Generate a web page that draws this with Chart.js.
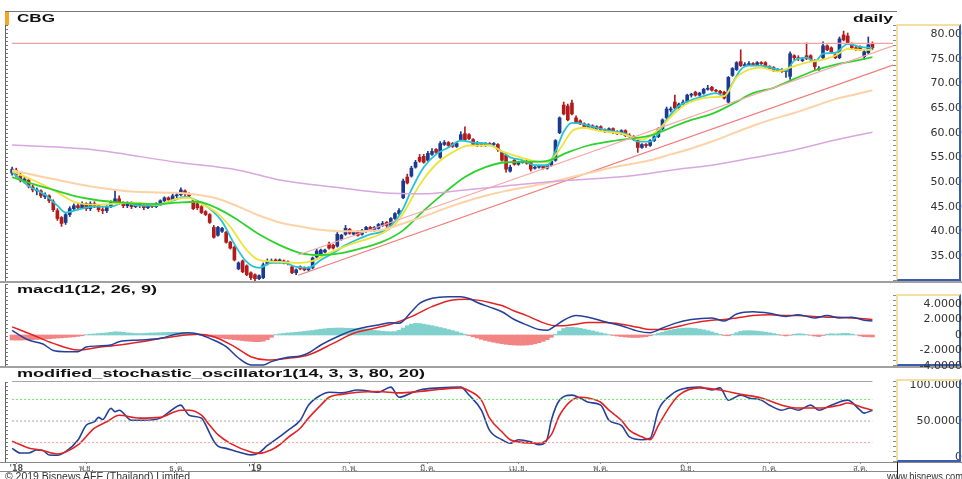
<!DOCTYPE html>
<html><head><meta charset="utf-8">
<script src="https://cdn.jsdelivr.net/npm/chart.js@4"></script>
<style>
html,body{margin:0;padding:0;background:#fff;}
body{width:962px;height:479px;overflow:hidden;position:relative;font-family:'Liberation Sans',Arial,sans-serif;}
canvas{position:absolute;left:0;}
.a{position:absolute;}
.t{position:absolute;white-space:nowrap;font-weight:bold;font-size:11px;line-height:11px;color:#111;transform-origin:0 0;}
.f{position:absolute;white-space:nowrap;font-size:10px;line-height:10px;color:#333;transform-origin:0 0;}
.box{position:absolute;box-sizing:border-box;left:896px;width:65px;border-left:2px solid #f3dfa0;border-top:2px solid #f3dfa0;border-right:2px solid #3c5cb0;border-bottom:2px solid #3c5cb0;}
.rs{position:absolute;left:893px;width:3px;background:repeating-linear-gradient(to bottom,#8a8a8a 0 1px,transparent 1px 5px);}
.ls{position:absolute;left:5px;width:3px;border-left:1px solid #666;box-sizing:border-box;background:repeating-linear-gradient(to bottom,#777 0 1px,transparent 1px 4px);}
</style></head><body>
<canvas id="c1" width="962" height="283" style="top:0px"></canvas>
<canvas id="c3" width="962" height="111" style="top:368px"></canvas>

<div class="a" style="left:5px;top:11px;width:892px;height:1px;background:#777"></div>
<div class="a" style="left:0;top:281px;width:962px;height:2px;background:#a0a0a0"></div>
<div class="a" style="left:0;top:366px;width:962px;height:2px;background:#a0a0a0"></div>
<div class="a" style="left:0;top:462px;width:962px;height:1px;background:#888"></div>
<div class="a" style="left:0;top:471px;width:898px;height:1px;background:#888"></div>
<div class="a" style="left:897px;top:462px;width:1px;height:17px;background:#222"></div>
<div class="box" style="top:24px;height:257px"></div>
<div class="box" style="top:294px;height:72px"></div>
<div class="box" style="top:379px;height:83px"></div>
<div class="rs" style="top:25px;height:256px"></div>
<div class="rs" style="top:295px;height:71px"></div>
<div class="rs" style="top:381px;height:81px"></div>
<div class="ls" style="top:25px;height:256px"></div>
<div class="ls" style="top:284px;height:82px"></div>
<div class="ls" style="top:382px;height:80px"></div>
<div class="a" style="left:5px;top:12px;width:4px;height:13px;background:#f5a623"></div>
<canvas id="c2" width="962" height="90" style="top:283px"></canvas>

<div class="t" style="left:17px;top:13px" data-w="38">CBG</div>
<div class="t" style="left:853px;top:13px" data-w="40">daily</div>
<div class="t" style="left:17px;top:284px" data-w="140">macd1(12, 26, 9)</div>
<div class="t" style="left:17px;top:368px" data-w="408">modified_stochastic_oscillator1(14, 3, 3, 80, 20)</div>
<div class="f" style="left:5px;top:472px" data-w="185">© 2019 Bisnews AFE (Thailand) Limited</div>
<div class="f" style="left:887px;top:472px" data-w="76">www.bisnews.com</div>

<script>
// ---- price candles (daily) ----
const open = [
51.8,52.4,51.2,50.2,50.4,49.0,48.2,48.2,47.0,47.2,
46.0,44.2,42.8,41.8,43.4,44.6,45.2,44.8,45.6,44.6,
45.6,45.2,44.4,44.2,45.0,45.8,46.6,45.6,45.2,45.8,
45.0,45.6,45.2,44.8,45.4,45.0,45.6,46.2,46.8,46.4,
47.2,47.4,48.2,47.6,46.2,45.6,45.0,44.0,43.4,40.8,
39.2,40.0,39.8,37.8,36.8,32.4,34.0,33.0,31.6,31.2,
30.4,30.6,33.4,33.8,34.2,33.8,34.0,33.8,32.8,31.6,
32.8,32.6,32.2,32.6,34.8,35.4,35.8,37.4,37.2,37.0,
38.4,39.4,40.4,39.4,40.0,39.4,40.0,40.8,40.2,40.6,
41.2,41.8,41.2,42.6,43.6,46.8,51.0,51.2,53.0,55.0,
55.2,54.4,55.6,56.6,55.0,57.6,58.0,57.8,57.2,58.6,
59.8,59.6,58.6,57.4,57.8,57.4,57.8,57.6,57.6,56.0,
55.4,52.2,54.4,53.6,54.0,54.2,54.2,52.8,53.0,53.2,
52.8,53.4,54.4,60.0,65.6,65.4,66.0,63.0,62.4,61.8,
61.0,61.4,60.8,61.2,60.6,60.2,60.8,60.0,59.8,60.4,
59.4,59.2,58.4,57.0,57.6,57.4,58.4,59.2,60.8,63.0,
64.6,66.2,65.0,65.8,66.2,67.6,68.2,67.6,68.0,68.8,
69.2,68.6,68.4,68.2,66.2,71.6,72.8,74.4,73.6,73.8,
74.0,73.8,74.2,74.2,73.4,73.2,72.6,72.8,72.4,71.4,
75.6,75.2,74.6,75.6,75.6,74.6,72.8,75.2,77.6,77.2,
75.8,75.2,79.8,79.6,78.0,77.2,77.4,75.4,76.2,78.0];
const high = [
53.0,52.8,51.8,51.0,50.6,49.4,48.8,48.4,47.8,47.4,
46.4,44.6,43.0,43.8,45.0,45.6,45.8,46.0,45.8,46.0,
46.0,45.4,44.8,45.2,46.2,48.4,47.2,46.0,46.0,46.0,
45.8,45.8,45.4,45.6,45.6,45.8,46.4,47.0,47.0,47.6,
47.8,48.8,48.4,47.8,46.4,45.8,45.2,44.2,43.6,41.2,
41.0,40.8,40.0,38.0,37.0,33.8,34.2,33.2,31.8,31.4,
31.2,33.6,34.4,34.4,34.4,34.4,34.2,34.0,33.0,32.4,
33.0,32.8,32.8,34.8,36.4,36.4,36.4,37.8,37.4,39.8,
39.4,41.2,40.6,40.0,40.2,40.4,41.0,41.0,41.0,41.6,
42.0,42.0,42.8,43.8,44.6,50.6,51.6,53.2,54.4,55.6,
55.6,56.2,56.8,56.8,58.2,58.4,58.2,58.0,58.2,60.2,
61.2,59.8,58.8,58.2,58.0,58.0,58.0,58.0,57.8,56.2,
55.6,53.4,54.8,54.2,54.4,54.4,54.4,53.4,53.4,53.4,
53.6,54.6,58.6,63.2,66.2,65.8,66.6,63.4,62.6,62.0,
61.8,61.6,61.4,61.4,60.8,61.0,61.0,60.4,60.6,60.6,
59.8,59.4,58.6,57.8,57.8,58.6,59.4,61.0,62.8,65.2,
65.2,67.6,66.0,66.6,67.8,68.0,68.4,68.2,69.0,69.6,
69.4,68.8,68.6,68.4,71.4,73.2,74.4,76.8,74.2,74.4,
74.2,74.4,74.4,74.4,73.6,73.4,73.0,73.0,72.8,76.4,
75.8,75.6,75.2,78.2,75.8,74.8,73.4,78.4,77.8,77.4,
76.0,79.4,80.6,80.2,78.2,77.6,77.6,76.8,79.4,78.4];
const low = [
51.4,51.0,50.0,49.8,48.8,48.0,47.4,46.8,46.6,45.8,
44.0,42.2,41.0,41.4,43.0,44.2,44.4,44.6,44.2,44.2,
44.8,44.0,43.6,43.8,44.8,45.6,45.4,44.8,44.8,44.6,
44.8,44.8,44.4,44.6,44.8,44.8,45.2,46.0,46.0,46.2,
46.8,47.2,47.2,46.8,44.4,44.4,43.6,43.2,41.6,38.6,
39.0,39.8,37.6,36.4,34.0,32.2,31.6,31.0,30.2,29.8,
30.2,30.4,33.2,33.6,33.6,33.6,33.4,33.2,31.4,31.2,
32.2,32.0,32.0,32.4,34.6,35.2,35.6,36.4,36.4,36.8,
38.2,39.2,39.4,39.2,39.0,39.2,39.8,40.0,40.0,40.4,
41.0,40.8,41.0,42.4,43.4,46.6,49.6,51.0,52.8,54.0,
53.8,54.2,55.4,55.8,54.8,57.4,57.2,57.0,57.0,58.4,
58.4,58.6,57.4,57.2,57.2,57.2,57.4,57.2,56.2,54.2,
52.0,52.0,53.4,53.4,53.8,53.6,52.2,52.6,52.8,52.6,
52.6,53.2,54.2,59.8,63.6,62.4,63.6,61.8,61.6,61.0,
60.8,60.6,60.6,60.4,60.0,60.0,59.8,59.6,59.6,59.2,
58.8,58.4,56.0,56.8,57.0,57.2,58.2,59.0,60.6,62.8,
64.2,64.8,64.8,65.6,66.0,67.2,67.4,67.4,67.8,68.6,
68.4,68.2,67.8,66.8,66.0,71.4,72.6,73.4,73.4,73.6,
73.6,73.6,73.8,73.2,72.8,72.4,72.4,72.2,71.2,70.8,
74.8,74.6,74.4,74.8,74.6,72.8,72.6,75.0,76.6,76.2,
75.0,75.0,78.6,78.0,77.0,76.6,76.6,74.8,76.0,76.8];
const close = [
52.6,51.4,50.4,50.6,49.2,48.4,48.4,47.2,47.4,46.2,
44.4,42.6,41.6,43.4,44.6,45.2,44.8,45.6,44.6,45.6,
45.2,44.4,44.2,45.0,45.8,46.6,45.6,45.2,45.8,45.0,
45.6,45.2,44.8,45.4,45.0,45.6,46.2,46.8,46.4,47.2,
47.4,48.4,47.6,47.2,44.6,44.8,43.8,43.4,41.8,38.8,
40.8,40.6,37.8,36.6,34.2,33.6,31.8,31.2,30.6,30.4,
31.0,33.2,33.8,34.0,33.8,34.2,33.6,33.6,31.6,32.2,
32.4,32.2,32.6,34.6,36.0,36.2,36.2,36.6,36.6,39.4,
39.2,40.6,39.6,39.8,39.2,40.2,40.8,40.2,40.8,41.4,
41.6,41.2,42.6,43.6,44.2,50.2,49.8,52.8,54.0,54.2,
54.0,55.8,56.2,56.0,57.8,58.0,57.4,57.2,57.8,59.6,
58.6,58.8,57.6,57.8,57.4,57.8,57.6,57.8,56.6,54.4,
52.6,53.0,53.6,54.0,54.2,53.8,52.6,53.0,53.2,52.8,
53.4,54.2,58.4,63.0,63.8,62.6,63.8,62.0,61.8,61.2,
61.6,60.8,61.2,60.6,60.2,60.8,60.0,59.8,60.4,59.4,
59.2,58.6,57.0,57.6,57.4,58.4,59.2,60.8,62.6,64.8,
64.8,65.0,65.8,66.2,67.6,67.8,67.6,68.0,68.8,69.0,
68.6,68.4,68.0,67.0,71.2,73.0,74.2,73.6,73.8,74.0,
73.8,74.2,74.0,73.4,73.0,72.6,72.8,72.4,72.6,76.0,
75.2,75.0,74.8,75.0,74.8,73.4,73.0,77.6,76.8,76.4,
75.2,79.0,78.8,78.2,77.2,77.0,76.8,76.4,77.8,77.2];

// ---- moving averages [dayIndex, value] ----
const cyanMA = [[0,52.0],[4,49.2],[8,47.4],[11,45.2],[13,43.8],[16,44.4],[20,45.0],[24,45.0],[27,45.8],[31,45.2],[35,45.2],[39,46.2],[42,47.0],[45,46.2],[48,44.6],[51,42.0],[54,37.4],[57,33.8],[60,32.6],[63,33.6],[66,33.6],[69,32.8],[72,32.6],[75,34.2],[78,35.6],[81,37.2],[84,38.4],[87,39.4],[90,40.0],[93,42.0],[95,44.6],[97,48.4],[100,53.0],[103,55.6],[106,57.0],[109,58.4],[112,58.0],[116,57.6],[119,56.2],[121,55.0],[124,54.4],[127,53.4],[130,53.4],[132,56.2],[134,60.2],[136,62.0],[138,61.9],[141,61.2],[145,60.4],[149,59.8],[152,58.2],[155,58.2],[157,59.8],[159,62.6],[162,65.4],[165,66.6],[168,67.4],[171,68.0],[173,67.4],[175,70.0],[177,72.8],[179,73.6],[182,73.6],[185,73.0],[188,72.6],[190,74.6],[193,75.2],[195,74.4],[197,76.0],[200,76.2],[203,78.0],[206,77.4],[209,77.2]];
const yellowMA = [[0,52.2],[5,50.4],[10,48.4],[15,46.0],[20,45.4],[25,45.6],[30,45.8],[35,45.4],[40,46.6],[43,46.8],[45,46.0],[50,43.6],[53,40.9],[57,36.2],[60,34.2],[65,33.8],[70,33.6],[73,34.0],[77,35.6],[83,37.6],[90,39.6],[93,41.4],[95,43.6],[99,49.4],[103,53.6],[107,56.0],[111,57.4],[116,57.4],[119,56.2],[122,55.4],[126,54.4],[130,54.0],[133,56.6],[136,60.3],[139,61.0],[143,60.3],[148,59.8],[153,58.6],[157,60.6],[160,63.2],[163,65.4],[166,66.6],[170,67.2],[173,67.4],[176,71.2],[179,72.8],[182,73.2],[186,72.4],[189,73.2],[193,74.2],[197,74.8],[200,75.6],[203,77.0],[206,76.8],[209,76.8]];
const greenMA = [[0,51.0],[5,49.6],[10,48.4],[15,47.2],[20,46.4],[25,45.9],[30,45.6],[35,45.5],[40,45.8],[45,46.0],[50,44.6],[55,42.2],[60,39.4],[65,37.2],[70,35.6],[75,35.2],[80,35.6],[85,36.6],[90,37.9],[95,40.2],[100,44.2],[105,47.8],[110,51.0],[115,53.0],[120,54.0],[125,54.1],[130,54.3],[135,56.0],[140,57.4],[145,58.2],[150,58.8],[155,59.4],[160,61.0],[165,62.6],[170,63.8],[175,65.8],[180,68.0],[185,69.1],[190,70.9],[195,72.6],[200,73.8],[205,74.6],[209,75.3]];
const orangeMA = [[0,52.4],[10,50.6],[20,49.0],[30,48.0],[40,47.8],[45,47.4],[50,46.6],[55,45.0],[60,43.2],[65,41.8],[70,41.0],[75,40.3],[80,40.0],[85,40.0],[90,40.3],[95,41.6],[100,43.0],[105,44.6],[110,46.0],[115,47.2],[120,48.2],[125,49.0],[130,49.8],[135,50.8],[140,51.8],[145,52.8],[150,53.6],[155,54.4],[160,55.6],[165,56.8],[170,58.2],[175,59.8],[180,61.4],[185,62.8],[190,64.0],[195,65.4],[200,66.8],[205,67.8],[209,68.6]];
const purpleMA = [[0,57.5],[20,56.5],[40,54.0],[55,52.4],[65,50.4],[80,48.8],[90,47.8],[100,47.6],[110,48.4],[120,49.2],[130,50.0],[140,50.6],[150,51.2],[160,52.4],[170,53.4],[180,54.9],[190,56.5],[200,58.5],[209,60.1]];
const resistance = [[0,78.1],[214,78.1]];
const upperTrend = [[69.5,35.2],[214,77.6]];
const lowerTrend = [[69.5,31.1],[214,73.7]];

// ---- MACD(12,26,9) ----
const macdLine = [[0,0.6],[4,-0.65],[7.5,-1.16],[10,-2.0],[13,-2.15],[16,-2.15],[18,-1.55],[21,-1.42],[24,-1.29],[26,-0.86],[31,-0.65],[36,-0.43],[40,0.13],[43,0.3],[46,0],[48,-0.43],[52,-1.5],[55,-2.97],[58,-3.87],[61,-3.87],[63,-3.44],[67,-2.88],[70,-2.71],[72,-2.32],[75,-1.29],[79,-0.22],[83,0.65],[86,1.03],[89,1.29],[92,1.59],[94,1.5],[97,3.0],[99,4.09],[102,4.73],[106,4.95],[109,4.95],[111,4.7],[113,4.2],[116,3.6],[119,3.0],[122,2.0],[125,1.3],[128,0.7],[130,0.6],[132,1.2],[134,1.9],[137,2.5],[140,2.3],[144,1.7],[148,1.2],[152,0.5],[155,0.3],[158,0.9],[161,1.5],[165,2.0],[170,2.2],[173,1.8],[176,2.7],[180,3.0],[184,2.8],[188,2.4],[191,2.6],[195,2.2],[198,2.5],[201,2.2],[204,2.3],[207,1.9],[209,1.8]];
const signalLine = [[0,1.05],[5,0],[10,-1.08],[16,-1.94],[21,-1.59],[26,-1.29],[33,-0.73],[39,-0.22],[45,0.08],[49,-0.22],[54,-1.5],[58,-2.8],[62,-3.23],[67,-3.0],[72,-2.58],[78,-1.08],[83,0.22],[88,0.86],[92,1.38],[97,2.37],[102,3.66],[107,4.52],[110,4.6],[113,4.5],[116,4.2],[119,3.8],[122,3.1],[125,2.5],[128,1.8],[130,1.4],[132,1.2],[134,1.2],[137,1.4],[140,1.6],[144,1.6],[148,1.4],[152,1.0],[155,0.7],[158,0.7],[161,1.0],[165,1.5],[170,1.9],[173,2.0],[176,2.2],[180,2.5],[184,2.6],[188,2.5],[191,2.5],[195,2.4],[198,2.3],[201,2.3],[204,2.2],[207,2.1],[209,2.0]];
const macdHist = [
-0.65,-0.66,-0.66,-0.64,-0.62,-0.6,-0.58,-0.55,-0.52,-0.48,
-0.44,-0.4,-0.36,-0.32,-0.28,-0.24,-0.18,-0.1,0.05,0.1,
0.14,0.18,0.22,0.28,0.34,0.42,0.40,0.34,0.28,0.24,
0.2,0.18,0.2,0.24,0.26,0.28,0.3,0.32,0.34,0.34,
0.36,0.34,0.3,0.22,0.12,0.04,-0.06,-0.14,-0.22,-0.3,
-0.36,-0.42,-0.48,-0.54,-0.6,-0.66,-0.72,-0.78,-0.82,-0.86,
-0.86,-0.8,-0.6,-0.3,0.06,0.14,0.2,0.26,0.3,0.34,
0.4,0.46,0.52,0.58,0.66,0.74,0.8,0.86,0.88,0.9,
0.9,0.88,0.86,0.84,0.82,0.8,0.78,0.7,0.62,0.54,
0.48,0.44,0.42,0.44,0.6,0.9,1.2,1.4,1.5,1.48,
1.4,1.3,1.2,1.08,0.96,0.84,0.7,0.56,0.42,0.26,
0.1,-0.08,-0.24,-0.4,-0.56,-0.7,-0.82,-0.94,-1.04,-1.12,
-1.2,-1.26,-1.3,-1.32,-1.32,-1.3,-1.24,-1.14,-1.0,-0.82,
-0.6,-0.3,0.1,0.5,0.84,1.0,1.0,0.94,0.86,0.76,
0.64,0.52,0.4,0.28,0.16,0.06,-0.06,-0.14,-0.2,-0.26,
-0.3,-0.32,-0.32,-0.28,-0.22,-0.1,0.06,0.2,0.36,0.52,
0.64,0.74,0.82,0.88,0.9,0.88,0.84,0.76,0.66,0.54,
0.4,0.24,0.08,-0.06,-0.1,0.1,0.3,0.46,0.54,0.56,
0.54,0.5,0.44,0.36,0.28,0.18,0.08,-0.04,-0.12,-0.04,
0.1,0.16,0.14,0.06,-0.04,-0.14,-0.2,-0.06,0.1,0.16,
0.12,0.16,0.22,0.2,0.12,0.02,-0.12,-0.22,-0.24,-0.26];

// ---- modified stochastic (14,3,3,80,20) ----
const stochK = [[0,12],[2,5.6],[4,5.6],[6,9.7],[7.5,9],[9,2.8],[11,2.5],[13,7.4],[16,23.6],[18,44],[20,49],[21,55],[22,52],[24,67.6],[25,63],[26,65],[29,51],[32,51],[36,54],[38,62],[41,72],[42,65],[43,58],[46,54],[47,45],[48,33],[49,22],[50,15],[52,12],[55,7],[58,3],[60,6],[62,16],[64,24],[67,37],[70,51],[72,72],[75,86],[77,90],[80,89],[84,93],[89,90],[92,97],[94,83],[97,89],[99,93],[104,96],[109,97],[111,86],[114,65],[116,37],[119,24],[121,19],[123,24],[126,21],[128,17],[129,18],[130,25],[131,51],[133,79],[136,86],[138,82],[140,76],[143,72],[145,51],[148,44],[150,28],[153,24],[155,26],[157,65],[160,86],[162,93],[167,97],[170,93],[172,96],[174,79],[177,86],[179,82],[182,79],[184,72],[187,65],[189,68],[191,65],[194,72],[196,65],[199,72],[203,79],[206,65],[207,61],[209,65]];
const stochD = [[0,22],[4,12.5],[7,9.7],[11,4.2],[13,6.9],[16,16.7],[20,40],[23,49],[26,58],[31,54],[36,55],[41,65],[43,65],[46,58],[48,44],[50,31],[53,19],[58,7],[60,5],[63,10],[65,17],[67,27],[70,40],[72,54],[75,72],[77,83],[80,87],[84,90],[89,91],[94,89],[99,91],[104,94],[109,96],[111,92],[114,79],[116,54],[119,35],[121,24],[123,21],[128,19],[131,31],[133,58],[136,79],[138,83],[140,82],[143,76],[145,65],[148,51],[150,37],[153,28],[155,24],[157,44],[160,72],[162,86],[167,96],[172,93],[177,87],[182,82],[187,72],[191,68],[196,68],[201,72],[203,75],[207,68],[209,65]];
const stochLevels = [80, 50, 20];

// ---- axis ticks ----
const priceTicks = [35,40,45,50,55,60,65,70,75,80];
const macdTicks = [-4,-2,0,2,4];
const stochTicks = [0,50,100];
const monthIdx = [1,18,40,59,82,101,123,143,164,184,206];
const monthText = ["'18","พ.ย.","ธ.ค.","'19","ก.พ.","มี.ค.","เม.ย.","พ.ค.","มิ.ย.","ก.ค.","ส.ค."];

// ================= drawing =================
Chart.defaults.font.family = 'DejaVu Sans';
const UP = '#1d3a8f', DOWN = '#b21c1c';
const XMIN = -1, XMAX = 214, AXW = 69;
const tickFont = {family:'DejaVu Sans', size:11};
const mctx = document.createElement('canvas').getContext('2d');
mctx.font = '11px "DejaVu Sans"';
function padFor(labels){ return 66 - Math.max(...labels.map(s => mctx.measureText(s).width)); }
const pts = arr => arr.map(([x,y]) => ({x, y}));
const idx = close.map((_, i) => i);
const candleColor = c => close[c.dataIndex] >= open[c.dataIndex] ? UP : DOWN;

function yAxis(min, max, tv, fmt){
  const labels = tv.map(fmt);
  return {position:'right', min, max,
    afterFit: s => { s.width = AXW; s.paddingTop = 0; s.paddingBottom = 0; },
    afterBuildTicks: s => { s.ticks = tv.map(v => ({value:v})); },
    grid:{display:false, drawTicks:false}, border:{display:false},
    ticks:{callback: v => fmt(v), font: tickFont, color:'#333', crossAlign:'far', padding: padFor(labels), autoSkip:false}};
}
const hiddenX = {type:'linear', min:XMIN, max:XMAX, display:false, offset:false};
const base = {responsive:false, animation:false, events:[], plugins:{legend:{display:false}, tooltip:{enabled:false}}};
const line = (data, color, width, extra) => Object.assign({type:'line', data: pts(data), borderColor: color, borderWidth: width, pointRadius:0, fill:false, cubicInterpolationMode:'monotone', order:0}, extra || {});

// price panel
new Chart(document.getElementById('c1'), {
  type:'bar',
  data:{datasets:[
    line(purpleMA, '#d9a6e0', 1.5),
    line(orangeMA, '#fdd2a6', 2),
    line(lowerTrend, '#f27a7a', 1.2, {cubicInterpolationMode:'default', tension:0}),
    line(upperTrend, '#f6a8a8', 1.2, {cubicInterpolationMode:'default', tension:0}),
    line(resistance, '#f5a0a0', 1.2, {cubicInterpolationMode:'default', tension:0}),
    line(greenMA, '#2fd12f', 1.8),
    line(yellowMA, '#ece43a', 1.8),
    line(cyanMA, '#27c3d3', 1.8),
    {type:'bar', data: idx.map(i => ({x:i, y:[low[i], high[i]]})), backgroundColor: candleColor, barThickness:1, grouped:false, order:5},
    {type:'bar', data: idx.map(i => ({x:i, y:[Math.min(open[i],close[i]), Math.max(open[i],close[i])]})), backgroundColor: candleColor, barThickness:3, minBarLength:1, grouped:false, order:5}
  ]},
  options: Object.assign({}, base, {
    layout:{padding:{left:8, top:12, right:0, bottom:1}},
    scales:{x: hiddenX, y: yAxis(29.73, 84.46, priceTicks, v => v.toFixed(2))}
  })
});

// MACD panel
new Chart(document.getElementById('c2'), {
  type:'bar',
  data:{datasets:[
    line(macdLine, '#23409a', 1.5),
    line(signalLine, '#e32222', 1.5),
    {type:'bar', data: macdHist.map((v,i) => ({x:i, y:v})), backgroundColor: c => macdHist[c.dataIndex] >= 0 ? '#80d1cd' : '#f28583', barPercentage:1, categoryPercentage:1, order:5}
  ]},
  options: Object.assign({}, base, {
    layout:{padding:{left:8, top:0, right:0, bottom:5}},
    scales:{x: hiddenX, y: yAxis(-4.26, 6.71, macdTicks, v => v === 0 ? '0' : v.toFixed(4))}
  })
});

// Stochastic panel
const levelColors = ['#6fe06f', '#a0a0a0', '#f49a9a'];
new Chart(document.getElementById('c3'), {
  type:'line',
  data:{datasets:[
    line([[0,105],[209,105]], '#9a9a9a', 1, {cubicInterpolationMode:'default'}),
    ...stochLevels.map((lv, k) => line([[0,lv],[209,lv]], levelColors[k], 1, {borderDash:[2,2], cubicInterpolationMode:'default'})),
    line(stochD, '#e32222', 1.6),
    line(stochK, '#23409a', 1.6)
  ]},
  options: Object.assign({}, base, {
    layout:{padding:{left:8, top:13, right:0, bottom:0}},
    scales:{
      x:{type:'linear', min:XMIN, max:XMAX, offset:false,
        afterFit: s => { s.height = 17; s.paddingLeft = 0; s.paddingRight = 0; },
        afterBuildTicks: s => { s.ticks = monthIdx.map(v => ({value:v})); },
        grid:{display:true, drawOnChartArea:false, drawTicks:true, tickLength:2, color:'#888'},
        border:{display:false},
        ticks:{autoSkip:false, maxRotation:0, minRotation:0, padding:0, color:'#555',
          font: c => ({family:'DejaVu Sans', size:8, weight: (c.index === 0 || c.index === 3) ? 'bold' : 'normal'}),
          callback: v => { const k = monthIdx.indexOf(v); return k >= 0 ? monthText[k] : ''; }}},
      y: yAxis(-6.94, 105.56, stochTicks, v => v === 0 ? '0' : v.toFixed(4))
    }
  })
});

// stretch header / footer texts to the reference widths
document.querySelectorAll('[data-w]').forEach(el => {
  const w = el.getBoundingClientRect().width;
  if (w > 0) el.style.transform = 'scaleX(' + (parseFloat(el.dataset.w) / w) + ')';
});
</script>
</body></html>
